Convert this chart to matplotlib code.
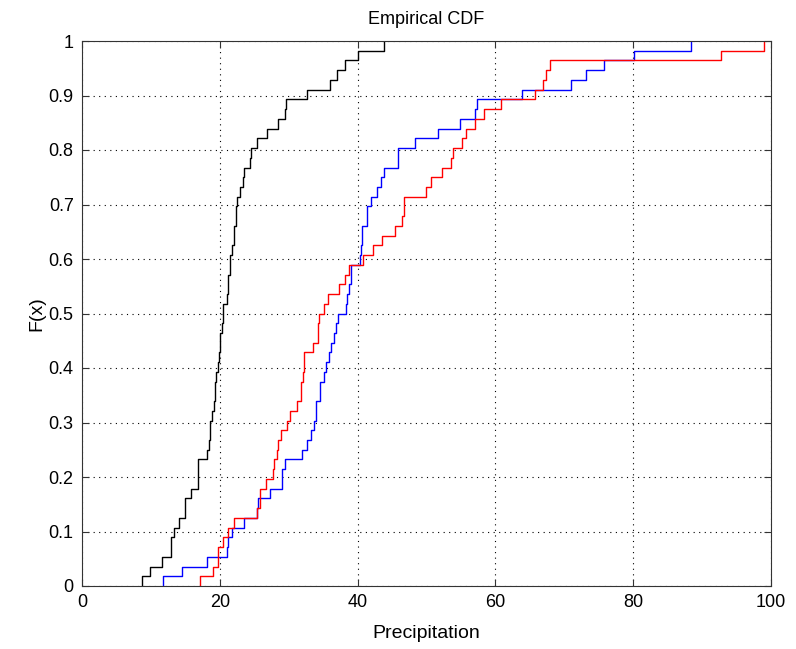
import numpy as np
import matplotlib
matplotlib.use("Agg")
import matplotlib.pyplot as plt

plt.rcParams['font.family'] = ['Liberation Sans', 'DejaVu Sans']

# Sample values (read from the empirical CDF steps)
black_samples = [8.7, 9.9, 11.6, 12.9, 12.9, 13.3, 14.1, 15.0, 15.0, 15.8,
                 16.8, 16.8, 16.8, 18.2, 18.4, 18.6, 18.6, 18.9, 19.1, 19.3,
                 19.3, 19.4, 19.7, 19.9, 20.1, 20.1, 20.3, 20.4, 20.4, 21.0,
                 21.2, 21.2, 21.5, 21.5, 21.8, 22.0, 22.0, 22.3, 22.3, 22.5,
                 23.0, 23.3, 23.5, 24.4, 24.5, 25.4, 26.9, 28.5, 29.4, 29.6,
                 32.6, 36.0, 37.0, 38.2, 40.0, 43.9]
blue_samples = [11.8, 14.5, 18.1, 21.0, 21.2, 21.7, 23.5, 25.4, 25.6, 27.3,
                29.1, 29.1, 29.5, 32.0, 32.6, 33.3, 33.7, 33.9, 34.0, 34.6,
                34.6, 35.1, 35.4, 35.9, 36.1, 36.6, 36.9, 37.2, 38.3, 38.5,
                38.8, 39.1, 39.1, 40.4, 40.5, 40.6, 40.6, 41.3, 41.3, 42.0,
                42.8, 43.4, 43.9, 45.8, 45.8, 48.3, 51.6, 54.9, 57.0, 57.3,
                63.8, 71.0, 73.1, 75.7, 80.1, 88.4]
red_samples = [17.1, 19.0, 19.8, 19.8, 20.4, 21.2, 22.0, 25.4, 25.9, 25.9,
               26.7, 27.7, 27.9, 28.3, 28.5, 28.9, 29.7, 30.2, 31.2, 31.8,
               31.8, 32.1, 32.2, 32.2, 33.5, 34.2, 34.2, 34.4, 35.1, 35.7,
               37.3, 38.2, 38.7, 40.8, 42.2, 43.6, 45.5, 46.4, 46.8, 46.8,
               49.9, 50.6, 52.2, 53.5, 53.9, 55.2, 55.7, 57.0, 58.3, 60.8,
               65.7, 66.9, 67.4, 67.9, 92.8, 99.0]

series = [(black_samples, 'black'), (blue_samples, 'blue'), (red_samples, 'red')]

x_ticks = [0, 20, 40, 60, 80, 100]
y_ticks = [0, 0.1, 0.2, 0.3, 0.4, 0.5, 0.6, 0.7, 0.8, 0.9, 1]
y_tick_labels = ['0', '0.1', '0.2', '0.3', '0.4', '0.5', '0.6', '0.7', '0.8', '0.9', '1']

fig = plt.figure(figsize=(7.96, 6.49), dpi=100)
ax = fig.add_axes([82/796, 1 - 586/649, (771-82)/796, (586-41)/649])

for samples, color in series:
    s = np.sort(np.asarray(samples))
    u, counts = np.unique(s, return_counts=True)
    F = np.cumsum(counts) / len(s)
    xx = np.concatenate([[u[0]], u])
    yy = np.concatenate([[0.0], F])
    ax.step(xx, yy, where='post', color=color, linewidth=1.0)

ax.set_xlim(0, 100)
ax.set_ylim(0, 1)
ax.set_xticks(x_ticks)
ax.set_xticklabels([str(t) for t in x_ticks])
ax.set_yticks(y_ticks)
ax.set_yticklabels(y_tick_labels)
ax.grid(True, color='black', linestyle=(0, (1, 4)), linewidth=0.8)
ax.tick_params(direction='in', top=True, right=True, length=5, width=0.8,
               labelsize=13, colors='#333333', labelcolor='black', pad=6)
for sp in ax.spines.values():
    sp.set_color('#333333')
    sp.set_linewidth(0.8)

ax.set_title('Empirical CDF', fontsize=13, pad=12)
ax.set_xlabel('Precipitation', fontsize=14, labelpad=10)
ax.set_ylabel('F(x)', fontsize=14, labelpad=2)

fig.savefig('out.png', dpi=100)
